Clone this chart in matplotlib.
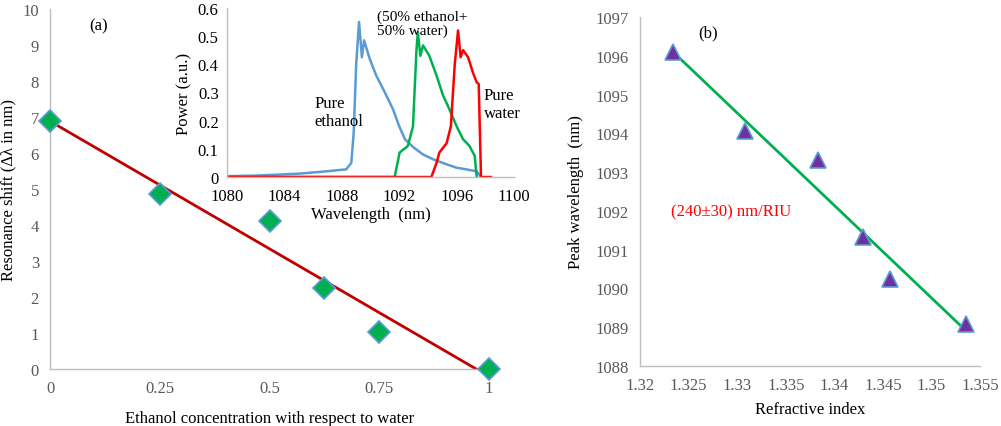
import numpy as np
import matplotlib
matplotlib.use("Agg")
import matplotlib.pyplot as plt

plt.rcParams['font.family'] = ['Liberation Serif', 'DejaVu Serif']
plt.rcParams['font.size'] = 12

# ---- Panel (a) data ----
conc = [0, 0.25, 0.5, 0.625, 0.75, 1.0]
shift = [6.9, 4.85, 4.12, 2.25, 1.02, 0.0]

# ---- Inset spectra ----
wl_eth = [1080, 1082, 1085.06, 1086.9, 1087.85, 1088.3, 1088.66, 1088.83, 1089.0, 1089.2, 1089.4,
          1089.55, 1089.94, 1090.4, 1091.0, 1091.57, 1092.0, 1092.4, 1093.0, 1093.66, 1094.36,
          1095.3, 1096.0, 1096.7, 1097.4, 1097.7]
p_eth = [0.003, 0.005, 0.012, 0.02, 0.025, 0.027, 0.05, 0.158, 0.40, 0.55, 0.425,
         0.485, 0.42, 0.36, 0.30, 0.24, 0.18, 0.134, 0.105, 0.08, 0.063,
         0.045, 0.033, 0.027, 0.02, 0.0]

wl_mix = [1080, 1091.68, 1092.03, 1092.6, 1092.96, 1093.2, 1093.3, 1093.47, 1093.66, 1094.1,
          1094.6, 1095.05, 1095.5, 1096.0, 1096.45, 1096.9, 1097.26, 1097.4]
p_mix = [0.0, 0.0, 0.087, 0.11, 0.18, 0.45, 0.515, 0.43, 0.467, 0.43,
         0.36, 0.29, 0.24, 0.18, 0.134, 0.11, 0.075, 0.0]

wl_wat = [1080, 1094.24, 1094.6, 1094.8, 1095.3, 1095.6, 1095.87, 1096.1, 1096.28, 1096.45,
          1096.8, 1097.14, 1097.4, 1097.54, 1097.7, 1098.4]
p_wat = [0.0, 0.0, 0.05, 0.087, 0.12, 0.18, 0.40, 0.52, 0.425, 0.45,
         0.425, 0.37, 0.336, 0.33, 0.0, 0.0]

# ---- Panel (b) data ----
ri = [1.3234, 1.3308, 1.3383, 1.3430, 1.3457, 1.3535]
peak = [1096.1, 1094.06, 1093.31, 1091.32, 1090.24, 1089.08]

tick_gray = '#595959'
spine_gray = '#bfbfbf'

def style(ax):
    for s in ['top', 'right']:
        ax.spines[s].set_visible(False)
    for s in ['left', 'bottom']:
        ax.spines[s].set_color(spine_gray)
        ax.spines[s].set_linewidth(1.0)
    ax.tick_params(length=0, colors=tick_gray, labelsize=12, pad=8)

fig = plt.figure(figsize=(10.01, 4.27), dpi=100)

# Panel (a)
axa = fig.add_axes([0.050, 0.1335, 0.4386, 0.843])
style(axa)
cfit = np.polyfit(conc, shift, 1)
x0 = -cfit[1] / cfit[0]
xs = np.array([0, x0])
axa.plot(xs, np.polyval(cfit, xs), color='#c00000', lw=2, zorder=2)
axa.plot(conc, shift, linestyle='none', marker='D', markersize=11,
         markerfacecolor='#00b050', markeredgecolor='#5b9bd5', markeredgewidth=1.2,
         zorder=3, clip_on=False)
axa.set_xlim(0, 1)
axa.set_ylim(0, 10)
axa.set_xticks([0, 0.25, 0.5, 0.75, 1])
axa.set_xticklabels(['0', '0.25', '0.5', '0.75', '1'])
axa.set_yticks(range(0, 11))
axa.set_xlabel('Ethanol concentration with respect to water', fontsize=12, labelpad=10)
axa.set_ylabel('Resonance shift (Δλ in nm)', fontsize=12, labelpad=4)
axa.text(0.11, 0.955, '(a)', transform=axa.transAxes, ha='center', va='center', fontsize=12)

# Inset
axi = fig.add_axes([0.2268, 0.5831, 0.2867, 0.396])
style(axi)
axi.tick_params(axis='y', pad=6)
axi.tick_params(axis='x', pad=8)
axi.set_facecolor('none')
axi.plot(wl_eth, p_eth, color='#5b9bd5', lw=1.8)
axi.plot(wl_mix, p_mix, color='#00b050', lw=1.8)
axi.plot(wl_wat, p_wat, color='#ff0000', lw=1.8)
axi.set_xlim(1080, 1100)
axi.set_ylim(0, 0.6)
axi.set_xticks([1080, 1084, 1088, 1092, 1096, 1100])
axi.set_yticks([0, 0.1, 0.2, 0.3, 0.4, 0.5, 0.6])
axi.set_yticklabels(['0', '0.1', '0.2', '0.3', '0.4', '0.5', '0.6'])
for lab in axi.get_xticklabels() + axi.get_yticklabels():
    lab.set_color('black')
axi.set_xlabel('Wavelength  (nm)', fontsize=12, labelpad=1)
axi.set_ylabel('Power (a.u.)', fontsize=12, labelpad=4)
axi.text(1086.1, 0.23, 'Pure\nethanol', ha='left', va='center', fontsize=12, linespacing=1.15)
axi.text(1090.45, 0.547, '(50% ethanol+\n50% water)', ha='left', va='center', fontsize=11, linespacing=1.05)
axi.text(1097.9, 0.26, 'Pure\nwater', ha='left', va='center', fontsize=12, linespacing=1.15)

# Panel (b)
axb = fig.add_axes([0.6394, 0.1405, 0.3397, 0.8173])
style(axb)
bfit = np.polyfit(ri, peak, 1)
xb = np.array([min(ri), max(ri)])
axb.plot(xb, np.polyval(bfit, xb), color='#00b050', lw=2, zorder=2)
axb.plot(ri, peak, linestyle='none', marker='^', markersize=11,
         markerfacecolor='#7030a0', markeredgecolor='#5b9bd5', markeredgewidth=1.2, zorder=3)
axb.set_xlim(1.32, 1.355)
axb.set_ylim(1088, 1097)
axb.set_xticks([1.32, 1.325, 1.33, 1.335, 1.34, 1.345, 1.35, 1.355])
axb.set_xticklabels(['1.32', '1.325', '1.33', '1.335', '1.34', '1.345', '1.35', '1.355'])
axb.set_yticks(range(1088, 1098))
axb.set_xlabel('Refractive index', fontsize=12, labelpad=6)
axb.set_ylabel('Peak wavelength  (nm)', fontsize=12, labelpad=8)
axb.text(0.2, 0.955, '(b)', transform=axb.transAxes, ha='center', va='center', fontsize=12)
axb.text(1.3232, 1092, '(240±30) nm/RIU', color='#ff0000', ha='left', va='center', fontsize=12)

fig.savefig('out.png', dpi=100)
